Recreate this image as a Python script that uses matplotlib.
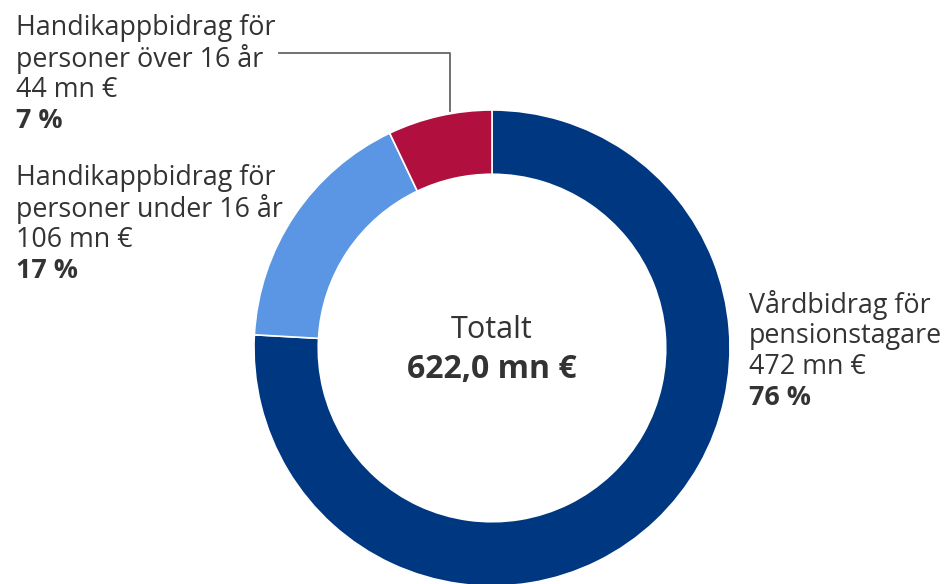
import matplotlib.pyplot as plt

plt.rcParams['font.family'] = ['Open Sans', 'DejaVu Sans']

labels = ['Vårdbidrag för\npensionstagare', 'Handikappbidrag för\npersoner under 16 år',
          'Handikappbidrag för\npersoner över 16 år']
values = [472, 106, 44]
shares = [76, 17, 7]
colors = ['#003781', '#5a96e3', '#b1103f']
total = 622.0

W, H = 952, 584
fig = plt.figure(figsize=(W / 100, H / 100), dpi=100)
ax = fig.add_axes([0, 0, 1, 1])

cx, cy, r = 492, 348, 238
# y axis is inverted, so counterclock=True draws clockwise on screen
ax.pie(values, colors=colors, startangle=-90, counterclock=True, center=(cx, cy), radius=r,
       wedgeprops=dict(width=r * 0.27, edgecolor='white', linewidth=1.2), frame=True)
ax.set_xlim(0, W)
ax.set_ylim(H, 0)
ax.set_aspect('equal')
ax.axis('off')

tc = '#333333'
fs = 19.4


def block(x, y0, i):
    lines = labels[i].split('\n') + ['%d mn €' % values[i]]
    for k, line in enumerate(lines):
        ax.text(x, y0 + k * 31, line, fontsize=fs, color=tc, ha='left', va='center')
    ax.text(x, y0 + len(lines) * 31, '%d %%' % shares[i], fontsize=fs, color=tc,
            fontweight='bold', ha='left', va='center')


block(16, 28, 2)
block(16, 178, 1)
block(749, 305, 0)

ax.text(cx, 330, 'Totalt', fontsize=22, color=tc, ha='center', va='center')
ax.text(cx, 369, ('%.1f mn €' % total).replace('.', ','), fontsize=23, color=tc,
        fontweight='bold', ha='center', va='center')

# leader line to the smallest slice
ax.plot([279, 450, 450], [53, 53, 111], color='#666666', lw=1.3)

fig.savefig('out.png', dpi=100)
